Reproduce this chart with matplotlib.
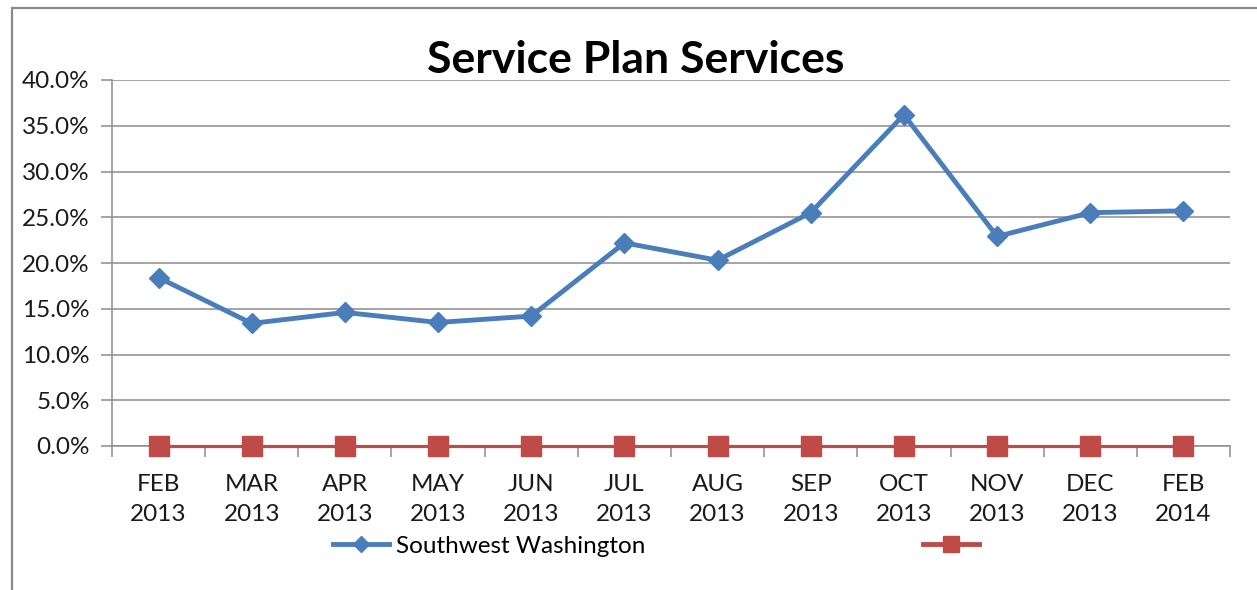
import matplotlib.pyplot as plt
from matplotlib.patches import Rectangle
from matplotlib.lines import Line2D
from matplotlib.ticker import FixedLocator, FuncFormatter
import numpy as np

plt.rcParams['font.family'] = ['Lato', 'DejaVu Sans']

months = ['FEB\n2013', 'MAR\n2013', 'APR\n2013', 'MAY\n2013', 'JUN\n2013', 'JUL\n2013',
          'AUG\n2013', 'SEP\n2013', 'OCT\n2013', 'NOV\n2013', 'DEC\n2013', 'FEB\n2014']
southwest = [18.4, 13.4, 14.6, 13.5, 14.2, 22.2, 20.3, 25.5, 36.2, 22.9, 25.5, 25.7]
other = [0.0] * 12

blue = '#4A7EBB'
red = '#BE4B48'
grid = '#8C8C8C'
fs = 17.5

fig = plt.figure(figsize=(12.57, 5.90), dpi=100)
# chart frame (cut off at right/bottom like the screenshot)
fig.patches.append(Rectangle((12 / 1257, -0.1), 1.2, 1 - 8 / 590 + 0.1,
                             transform=fig.transFigure, fill=False,
                             edgecolor='#8A8A8A', lw=1.6))

ax = fig.add_axes([112 / 1257, 1 - 446 / 590, (1230 - 112) / 1257, (446 - 80) / 590])
x = np.arange(len(months))
ax.plot(x, other, color=red, lw=2.3, marker='s', markersize=15, zorder=3, clip_on=False)
ax.plot(x, southwest, color=blue, lw=3.5, marker='D', markersize=10, zorder=4, clip_on=False)

ax.set_xlim(-0.5, len(months) - 0.5)
ax.set_ylim(0, 40)
ax.set_yticks(np.arange(0, 41, 5))
ax.yaxis.set_major_formatter(FuncFormatter(lambda v, p: '{:.1f}%'.format(v)))
ax.yaxis.grid(True, color=grid, lw=1.1)
ax.set_axisbelow(True)

ax.set_xticks(x)
ax.set_xticklabels(months, linespacing=1.55)
ax.xaxis.set_minor_locator(FixedLocator(np.arange(-0.5, len(months), 1.0)))
ax.tick_params(axis='x', which='major', length=0, pad=20, labelsize=fs, colors='#1A1A1A')
ax.tick_params(axis='x', which='minor', length=8, color=grid, width=1.1)
ax.tick_params(axis='y', length=8, color=grid, width=1.1, labelsize=fs, pad=8, labelcolor='#1A1A1A')

for s in ['top', 'right']:
    ax.spines[s].set_visible(False)
for s in ['left', 'bottom']:
    ax.spines[s].set_color(grid)
    ax.spines[s].set_linewidth(1.1)

fig.text(636 / 1257, 1 - 60 / 590, 'Service Plan Services', ha='center', va='center',
         fontsize=32, fontweight='bold')

h1 = Line2D([], [], color=blue, lw=3.5, marker='D', markersize=8)
h2 = Line2D([], [], color=red, lw=3.5, marker='s', markersize=12)
fig.legend([h1, h2], ['Southwest Washington', ''], ncol=2, frameon=False, fontsize=fs,
           loc='center left', bbox_to_anchor=(333 / 1257, 1 - 546 / 590),
           handlelength=2.3, handletextpad=0.3, columnspacing=11.4, borderaxespad=0,
           borderpad=0)

fig.savefig('out.png', dpi=100)
